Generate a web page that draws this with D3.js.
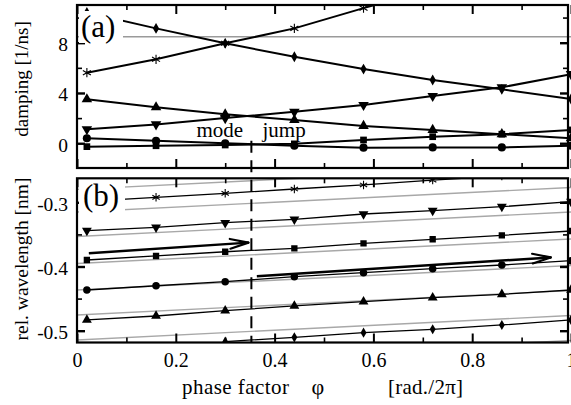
<!DOCTYPE html>
<html><head><meta charset="utf-8">
<script src="https://cdn.jsdelivr.net/npm/d3@7"></script>
<style>
body{margin:0;background:#fff}
svg{display:block}
text{font-family:"Liberation Serif","Times New Roman",serif;fill:#000}
</style>
</head><body>
<svg id="c" width="571" height="405"></svg>
<script>
// ---------- data ----------
const phase = [0.02, 0.16, 0.30, 0.44, 0.58, 0.72, 0.86, 1.0];
const xTicksMajor = [0, 0.2, 0.4, 0.6, 0.8, 1];
const xTicksMinor = [0.1, 0.3, 0.5, 0.7, 0.9];
const xTickLabels = ["0", "0.2", "0.4", "0.6", "0.8", "1"];

// panel (a): damping [1/ns]
const dampStar     = [5.61, 6.68, 7.95, 9.14, 10.75, 12.3, null, null];
const dampDiamond  = [10.4, 9.14, 7.95, 6.88, 5.9, 5.03, 4.29, 3.52];
const dampTriUp    = [3.5, 2.86, 2.3, 1.85, 1.38, 1.06, 0.72, 0.4];
const dampTriDown  = [1.11, 1.5, 2.0, 2.5, 3.04, 3.76, 4.45, 5.5];
const dampSquare   = [-0.27, -0.2, -0.14, -0.05, 0.26, 0.52, 0.72, 1.06];
const dampCircle   = [0.4, 0.2, 0.0, -0.2, -0.35, -0.33, -0.33, -0.2];
const dampRef      = 8.47;
const yaTicksMajor = [0, 4, 8];
const yaTicksMinor = [2, 6, 10];
const yaTickLabels = ["0", "4", "8"];

// panel (b): relative wavelength [nm]
const wlStar    = [-0.2985, -0.2922, -0.286, -0.2793, -0.273, -0.2653, -0.259, null];
const wlTriDown = [-0.3442, -0.339, -0.3318, -0.3265, -0.3182, -0.313, -0.3068, -0.299];
const wlSquare  = [-0.3899, -0.3836, -0.377, -0.3717, -0.3639, -0.3576, -0.3514, -0.3447];
const wlCircle  = [-0.4366, -0.43, -0.4237, -0.4159, -0.4097, -0.4034, -0.3977, -0.391];
const wlTriUp   = [-0.4833, -0.4771, -0.4688, -0.4615, -0.4548, -0.4486, -0.4433, -0.4366];
const wlDiamond = [null, null, -0.5171, -0.5103, -0.5031, -0.4978, -0.4911, -0.4833];
// grey reference lines: value at phase 0 and at phase 1
const greyStart = [-0.2798, -0.3151, -0.3533, -0.3953, -0.4366, -0.4755, -0.5145, -0.5534];
const greyEnd   = [-0.2416, -0.2770, -0.3151, -0.3572, -0.3984, -0.4374, -0.4763, -0.5153];
const ybTicksMajor = [-0.3, -0.4, -0.5];
const ybTicksMinor = [-0.35, -0.45];
const ybTickLabels = ["-0.3", "-0.4", "-0.5"];
// arrows [phase0, value0, phase1, value1]
const arrow1 = [0.024, -0.3794, 0.347, -0.3628];
const arrow2 = [0.364, -0.4151, 0.959, -0.3859];
const modeJumpPhase = 0.353;

// ---------- layout ----------
const svg = d3.select("#c");
const L = 77, R = 568;
const A = {top: 5, bottom: 168};
const B = {top: 178.3, bottom: 342.5};
const x  = d3.scaleLinear().domain([0, 1]).range([77, 571]);
const ya = d3.scaleLinear().domain([-1.97, 11.0]).range([A.bottom, A.top]);
const yb = d3.scaleLinear().domain([-0.5184, -0.2626]).range([B.bottom, B.top]);

const defs = svg.append("defs");
defs.append("clipPath").attr("id","clipA").append("rect")
  .attr("x", L).attr("y", A.top).attr("width", R - L + 10).attr("height", A.bottom - A.top);
defs.append("clipPath").attr("id","clipB").append("rect")
  .attr("x", L).attr("y", B.top).attr("width", R - L + 10).attr("height", B.bottom - B.top);

function pts(vals){ return phase.map((p,i)=>[p, vals[i]]).filter(d=>d[1]!=null); }

const shapes = {
  star: d3.symbolAsterisk, diamond: d3.symbolDiamond, triUp: d3.symbolTriangle,
  triDown: d3.symbolTriangle, square: d3.symbolSquare, circle: d3.symbolCircle
};

function drawSeries(g, y, vals, shape, lw, sizes){
  const line = d3.line().x(d=>x(d[0])).y(d=>y(d[1]));
  const data = pts(vals);
  g.append("path").attr("d", line(data)).attr("fill","none")
    .attr("stroke","#000").attr("stroke-width", lw);
  const sym = d3.symbol().type(shapes[shape]).size(sizes[shape]);
  g.selectAll(null).data(data).enter().append("path")
    .attr("d", sym)
    .attr("transform", d=>`translate(${x(d[0])},${y(d[1])})` + (shape==="triDown" ? " rotate(180)" : ""))
    .attr("fill", shape==="star" ? "none" : "#000")
    .attr("stroke", "#000").attr("stroke-width", shape==="star" ? 1.1 : 0);
}

// ---------- panel (a) ----------
const gA = svg.append("g").attr("clip-path","url(#clipA)");
gA.append("line").attr("x1", x(0)).attr("x2", x(1))
  .attr("y1", ya(dampRef)).attr("y2", ya(dampRef))
  .attr("stroke","#9a9a9a").attr("stroke-width",1.6);
const sizesA = {star: 60, diamond: 34, triUp: 48, triDown: 48, square: 45, circle: 52};
[[dampSquare,"square"],[dampCircle,"circle"],[dampTriUp,"triUp"],[dampTriDown,"triDown"],
 [dampStar,"star"],[dampDiamond,"diamond"]].forEach(([v,s])=>drawSeries(gA, ya, v, s, 2, sizesA));

// ---------- panel (b) ----------
const gB = svg.append("g").attr("clip-path","url(#clipB)");
greyStart.forEach((s,i)=>{
  gB.append("line").attr("x1", x(0)).attr("x2", x(1))
    .attr("y1", yb(s)).attr("y2", yb(greyEnd[i]))
    .attr("stroke","#a8a8a8").attr("stroke-width",1.4);
});
const sizesB = {star: 50, diamond: 30, triUp: 42, triDown: 42, square: 40, circle: 44};
[[wlStar,"star"],[wlTriDown,"triDown"],[wlSquare,"square"],[wlCircle,"circle"],
 [wlTriUp,"triUp"],[wlDiamond,"diamond"]].forEach(([v,s])=>drawSeries(gB, yb, v, s, 1.3, sizesB));

function arrow(g, a){
  const x0=x(a[0]), y0=yb(a[1]), x1=x(a[2]), y1=yb(a[3]);
  const ang = Math.atan2(y1-y0, x1-x0), len = 19, spread = 0.26;
  g.append("line").attr("x1",x0).attr("y1",y0).attr("x2",x1).attr("y2",y1)
    .attr("stroke","#000").attr("stroke-width",2.4);
  [spread, -spread].forEach(s=>{
    g.append("line").attr("x1",x1).attr("y1",y1)
      .attr("x2", x1 - len*Math.cos(ang+s)).attr("y2", y1 - len*Math.sin(ang+s))
      .attr("stroke","#000").attr("stroke-width",2.2).attr("stroke-linecap","round");
  });
}
arrow(gB, arrow1);
arrow(gB, arrow2);

// mode jump dashed line
svg.append("line").attr("x1", x(modeJumpPhase)).attr("x2", x(modeJumpPhase))
  .attr("y1", ya(0.2)).attr("y2", B.bottom)
  .attr("stroke","#000").attr("stroke-width",2).attr("stroke-dasharray","12,7.5");

// ---------- frames & axes ----------
function frame(p){
  svg.append("rect").attr("x", L).attr("y", p.top).attr("width", R-L).attr("height", p.bottom-p.top)
    .attr("fill","none").attr("stroke","#000").attr("stroke-width",2.2);
}
frame(A); frame(B);

function styleAxis(g, w){
  g.select(".domain").remove();
  g.attr("font-family", null);
  g.selectAll(".tick line").attr("stroke","#000").attr("stroke-width", w);
}
function xAxes(p, labels){
  const bm = svg.append("g").attr("transform",`translate(0,${p.bottom})`)
    .call(d3.axisBottom(x).tickValues(xTicksMajor).tickSizeInner(-9).tickSizeOuter(0).tickPadding(10)
      .tickFormat((d,i)=> labels ? xTickLabels[i] : ""));
  styleAxis(bm, 2);
  bm.selectAll("text").attr("font-size", 20);
  const bn = svg.append("g").attr("transform",`translate(0,${p.bottom})`)
    .call(d3.axisBottom(x).tickValues(xTicksMinor).tickSizeInner(-5).tickSizeOuter(0).tickFormat(""));
  styleAxis(bn, 1.6);
  const tm = svg.append("g").attr("transform",`translate(0,${p.top})`)
    .call(d3.axisTop(x).tickValues(xTicksMajor).tickSizeInner(-9).tickSizeOuter(0).tickFormat(""));
  styleAxis(tm, 2);
  const tn = svg.append("g").attr("transform",`translate(0,${p.top})`)
    .call(d3.axisTop(x).tickValues(xTicksMinor).tickSizeInner(-5).tickSizeOuter(0).tickFormat(""));
  styleAxis(tn, 1.6);
}
function yAxes(y, major, minor, labels){
  const lm = svg.append("g").attr("transform",`translate(${L},0)`)
    .call(d3.axisLeft(y).tickValues(major).tickSizeInner(-8).tickSizeOuter(0).tickPadding(9)
      .tickFormat((d,i)=>labels[i]));
  styleAxis(lm, 2.4);
  lm.selectAll("text").attr("font-size", 19.5).attr("dy","0.4em");
  const ln = svg.append("g").attr("transform",`translate(${L},0)`)
    .call(d3.axisLeft(y).tickValues(minor).tickSizeInner(-5).tickSizeOuter(0).tickFormat(""));
  styleAxis(ln, 1.6);
  const rm = svg.append("g").attr("transform",`translate(${R},0)`)
    .call(d3.axisRight(y).tickValues(major).tickSizeInner(-8).tickSizeOuter(0).tickFormat(""));
  styleAxis(rm, 2.4);
  const rn = svg.append("g").attr("transform",`translate(${R},0)`)
    .call(d3.axisRight(y).tickValues(minor).tickSizeInner(-5).tickSizeOuter(0).tickFormat(""));
  styleAxis(rn, 1.6);
}
xAxes(A, false);
xAxes(B, true);
yAxes(ya, yaTicksMajor, yaTicksMinor, yaTickLabels);
yAxes(yb, ybTicksMajor, ybTicksMinor, ybTickLabels);

// ---------- labels ----------
function panelLabel(txt, bx, by, bw, bh, tx, ty){
  svg.append("rect").attr("x",bx).attr("y",by).attr("width",bw).attr("height",bh).attr("fill","#fff");
  svg.append("text").attr("x",tx).attr("y",ty).attr("font-size",31).text(txt);
}
panelLabel("(a)", 79, 11, 44, 32, 81, 37);
panelLabel("(b)", 79, 181, 46, 32, 83, 206);

svg.append("text").attr("x", 196.5).attr("y", 136.5).attr("font-size", 21).text("mode");
svg.append("text").attr("x", 262.5).attr("y", 136.5).attr("font-size", 21).text("jump");

svg.append("text").attr("transform","translate(28,79) rotate(-90)")
  .attr("text-anchor","middle").attr("font-size",19).text("damping [1/ns]");
svg.append("text").attr("transform","translate(28,259) rotate(-90)")
  .attr("text-anchor","middle").attr("font-size",19.5).text("rel. wavelength [nm]");

svg.append("text").attr("x", 182).attr("y", 394).attr("font-size", 21)
  .attr("textLength", 107).attr("lengthAdjust","spacing").text("phase factor");
svg.append("text").attr("x", 311.5).attr("y", 394).attr("font-size", 22).text("φ");
svg.append("text").attr("x", 388).attr("y", 394).attr("font-size", 21)
  .attr("textLength", 75).attr("lengthAdjust","spacing").text("[rad./2π]");
</script>
</body></html>
